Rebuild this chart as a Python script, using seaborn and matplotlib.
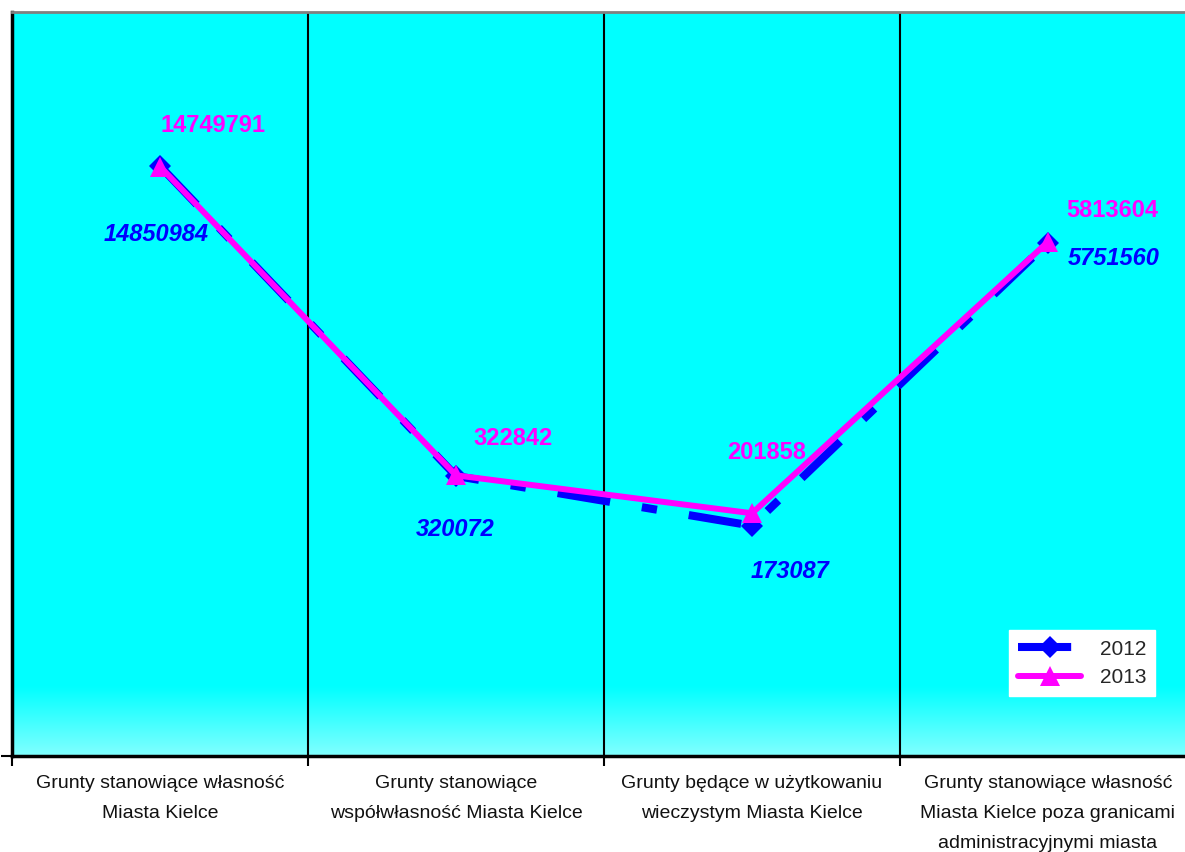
import numpy as np
import pandas as pd
import matplotlib
matplotlib.use("Agg")
import matplotlib.pyplot as plt
import seaborn as sns

# Datos
kategorie = ['Grunty stanowiące własność\nMiasta Kielce',
             'Grunty stanowiące\nwspółwłasność Miasta Kielce',
             'Grunty będące w użytkowaniu\nwieczystym Miasta Kielce',
             'Grunty stanowiące własność\nMiasta Kielce poza granicami\nadministracyjnymi miasta']
wartosci_2012 = [14850984, 320072, 173087, 5751560]
wartosci_2013 = [14749791, 322842, 201858, 5813604]

df = pd.DataFrame({
    'poz': list(range(len(kategorie))) * 2,
    'wartosc': wartosci_2012 + wartosci_2013,
    'rok': ['2012'] * 4 + ['2013'] * 4,
})

sns.set_style('white')
plt.rcParams['font.family'] = ['Liberation Sans', 'DejaVu Sans']

fig = plt.figure(figsize=(11.85, 8.52), dpi=100)
ax = fig.add_axes([12 / 1185, 96 / 852, 1184 / 1185, 744 / 852])

# tlo: cyjan z jasniejszym pasem na dole
grad = np.ones((256, 1, 3))
t = np.linspace(0, 1, 256)
jasnosc = np.clip((t - 0.908) / (1 - 0.908), 0, 1) * 0.5
grad[:, 0, 0] = jasnosc
ax.imshow(grad, extent=[0, 1, 0, 1], transform=ax.transAxes, origin='upper',
          aspect='auto', zorder=0, interpolation='bilinear')

d12 = df[df['rok'] == '2012']
d13 = df[df['rok'] == '2013']
sns.lineplot(data=d12, x='poz', y='wartosc', ax=ax, color='#0000FF', lw=5.8,
             dashes=False, marker='D', markersize=11, markeredgewidth=0,
             label='2012', zorder=3)
ax.lines[-1].set_dashes((6.6, 4, 1.9, 4))
sns.lineplot(data=d13, x='poz', y='wartosc', ax=ax, color='#FF00FF', lw=4.3,
             marker='^', markersize=15, markeredgewidth=0,
             label='2013', zorder=4)

ax.set_yscale('log')
ax.set_ylim(1e4, 1e8)
ax.set_xlim(-0.5, 3.5)

# podpisy wartosci
off12 = [(-4, -68), (-1, -53), (38, -46), (66, -16)]
off13 = [(53, 41), (57, 37), (15, 61), (64, 31)]
for i in range(4):
    ax.annotate(str(wartosci_2012[i]), (i, wartosci_2012[i]), xytext=off12[i],
                textcoords='offset pixels', ha='center', va='center',
                fontsize=17, fontweight='bold', fontstyle='italic', color='#0000FF', zorder=5)
    ax.annotate(str(wartosci_2013[i]), (i, wartosci_2013[i]), xytext=off13[i],
                textcoords='offset pixels', ha='center', va='center',
                fontsize=17, fontweight='bold', color='#FF00FF', zorder=5)

# linie podzialu kategorii
for xv in [0.5, 1.5, 2.5]:
    ax.axvline(xv, color='black', lw=1.5, zorder=1)

ax.set_xticks([-0.5, 0.5, 1.5, 2.5, 3.5])
ax.set_xticklabels([])
ax.set_xticks(range(4), minor=True)
ax.set_xticklabels(kategorie, minor=True, fontsize=14, linespacing=2.0, color='#111111')
ax.tick_params(axis='x', which='major', length=7, width=1.5, color='black', direction='out', bottom=True)
ax.tick_params(axis='x', which='minor', length=0, pad=14)
ax.set_yticks([1e4])
ax.set_yticks([], minor=True)
ax.set_yticklabels([])
ax.tick_params(axis='y', length=8, width=1.5, color='black', direction='out', left=True)
ax.set_xlabel('')
ax.set_ylabel('')

ax.spines['left'].set_color('black')
ax.spines['left'].set_linewidth(2.5)
ax.spines['bottom'].set_color('black')
ax.spines['bottom'].set_linewidth(2.5)
ax.spines['top'].set_color('#808080')
ax.spines['top'].set_linewidth(2)
ax.spines['right'].set_visible(False)

leg = ax.legend(loc='upper left', bbox_to_anchor=(0.842, 0.169), borderaxespad=0,
                frameon=True, fancybox=False, fontsize=15, handlelength=3.0,
                handletextpad=0.9, labelspacing=0.45, borderpad=0.45)
leg.get_frame().set_facecolor('white')
leg.get_frame().set_edgecolor('white')
leg.get_frame().set_alpha(1)

fig.savefig('out.png', dpi=100)
